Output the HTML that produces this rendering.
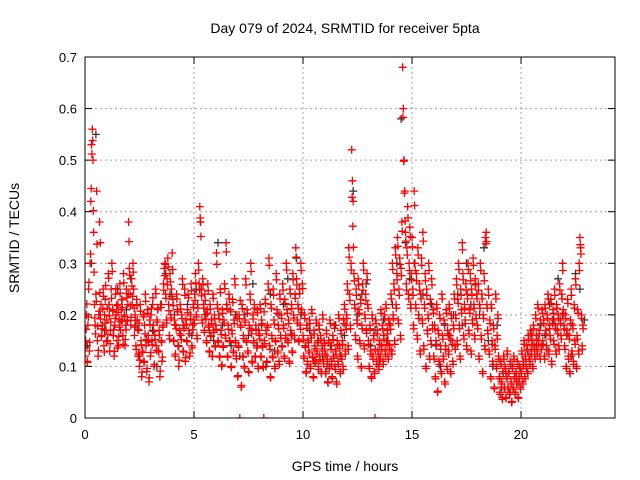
<!DOCTYPE html>
<html><head><meta charset="utf-8"><style>
html,body{margin:0;padding:0;background:#fff;}
svg{display:block;font-family:"Liberation Sans",sans-serif;}
</style></head><body>
<svg id="chart" width="640" height="480" viewBox="0 0 640 480" xmlns="http://www.w3.org/2000/svg">
<rect width="640" height="480" fill="#fff"/>
<text x="345" y="33" font-size="14" text-anchor="middle">Day 079 of 2024, SRMTID for receiver 5pta</text>
<text x="345" y="471" font-size="14" text-anchor="middle">GPS time / hours</text>
<text transform="translate(19,238) rotate(-90)" font-size="14" text-anchor="middle">SRMTID / TECUs</text>
<g id="grid"></g>
<g id="ticks"></g>
<defs><clipPath id="pc"><rect x="85" y="57" width="530" height="361"/></clipPath></defs>
<g id="grey" clip-path="url(#pc)"></g>
<g id="red" clip-path="url(#pc)"></g>
<rect x="85" y="57" width="530" height="361" fill="none" stroke="#000" stroke-width="1"/>
</svg>
<script>
const xTicks=[0,5,10,15,20];
const yTicks=[0,0.1,0.2,0.3,0.4,0.5,0.6,0.7];
const yTickLabels=["0","0.1","0.2","0.3","0.4","0.5","0.6","0.7"];
const redPerHour=30;
const redHundredths=[
12,15,20,11,18,25,13,30,42,53,56,50,36,22,18,24,44,15,12,20,38,34,22,16,18,25,14,20,23,17,
19,15,28,22,13,17,25,30,21,16,12,18,24,20,15,22,14,19,26,17,21,23,16,28,20,14,18,25,19,22,
38,29,24,18,27,22,30,25,16,20,14,23,19,12,17,10,22,15,8,13,20,11,18,24,14,9,21,16,7,19,
12,20,15,22,18,10,16,25,14,19,21,13,17,8,22,15,11,18,26,29,30,24,19,27,31,22,16,28,20,25,
32,23,15,19,12,18,24,21,14,10,17,22,16,20,27,13,18,25,11,19,15,21,24,17,12,20,26,14,18,22,
19,24,28,20,16,22,30,26,41,38,25,19,27,22,17,24,20,15,21,26,18,13,22,16,19,12,24,17,20,14,
18,32,22,15,20,12,25,17,10,21,14,19,26,16,34,22,12,18,24,15,21,10,17,23,13,19,27,15,12,20,
8,14,20,0,18,6,22,12,16,10,19,27,15,21,13,9,18,24,30,17,11,20,15,22,12,18,14,21,10,17,
16,22,12,19,14,10,0,15,23,17,11,18,26,31,14,8,22,16,12,25,19,10,15,28,21,13,18,11,24,16,
20,14,26,18,12,23,16,30,21,15,19,11,25,17,22,13,28,20,16,24,33,27,19,22,15,25,18,30,21,26,
16,12,20,14,9,18,11,15,13,19,10,16,21,12,8,17,14,11,19,13,15,10,18,12,16,9,14,20,11,15,
13,9,17,12,7,15,10,19,14,11,8,16,12,18,10,13,7,15,11,20,14,9,17,12,15,10,19,22,13,18,
20,26,14,33,24,18,30,52,46,42,28,22,16,25,19,12,27,21,15,23,10,18,26,30,14,20,24,17,28,22,
15,10,18,13,8,20,12,16,9,0,19,11,17,13,10,15,12,21,14,18,11,16,20,13,22,15,17,12,19,14,
18,24,13,30,20,26,15,33,22,28,35,19,25,31,16,29,38,68,60,50,44,36,26,33,41,24,30,37,22,28,
35,25,18,44,30,22,28,16,33,20,26,13,24,31,19,36,14,22,28,10,25,17,20,30,12,23,15,27,18,21,
12,18,8,15,22,5,17,11,20,14,9,24,16,12,19,7,14,21,10,17,13,22,16,9,20,15,11,18,24,14,
20,27,15,23,30,18,12,25,21,34,28,16,22,19,26,14,24,30,17,21,28,13,25,19,31,22,16,27,20,24,
18,26,12,22,30,16,24,9,20,28,14,35,36,22,17,25,13,19,8,22,15,11,18,6,14,24,10,16,20,12,
8,5,11,7,4,9,12,6,10,4,8,13,6,9,5,11,7,3,10,6,12,8,5,9,7,11,4,8,10,6,
9,13,7,11,15,8,12,10,14,9,16,12,11,17,13,15,10,18,14,12,20,16,13,22,15,17,12,19,14,21,
15,19,12,22,17,14,20,24,13,18,16,23,11,19,21,15,25,18,13,22,17,20,14,26,19,16,24,30,21,18,
14,20,10,17,23,12,16,9,19,25,13,18,11,22,15,27,10,16,21,13,30,35,33,20,14,18
];
const redBThousandths=[
137,172,221,108,196,263,147,318,445,512,538,402,283,194,163,226,337,178,131,207,243,192,158,173,211,236,128,184,257,149,
213,162,271,198,144,186,232,284,207,171,129,193,251,218,136,205,158,176,242,187,229,214,143,262,197,152,171,233,188,241,
342,277,218,195,256,236,283,213,176,189,133,218,172,124,184,112,207,142,89,127,196,108,163,226,152,96,203,147,78,181,
127,213,142,233,168,104,152,241,131,186,213,128,161,91,214,147,118,176,248,276,298,232,184,258,293,208,153,264,194,236,
288,218,149,181,124,173,231,206,139,112,163,211,152,193,259,128,174,238,117,182,148,204,233,163,126,192,247,136,171,214,
183,228,262,196,154,213,287,248,388,352,237,184,258,213,166,228,192,146,203,247,176,128,211,158,183,119,232,166,193,138,
172,298,213,147,192,118,243,162,103,203,137,184,251,155,322,212,118,172,231,148,206,98,163,224,127,183,258,146,115,193,
82,137,193,228,176,63,212,118,154,97,186,258,147,203,126,88,174,229,284,163,107,192,146,213,118,172,136,204,96,163,
153,212,118,183,137,98,206,144,222,163,108,176,248,296,133,78,213,154,117,238,182,96,148,268,203,126,173,104,231,155,
193,138,248,174,116,222,154,287,203,146,183,106,241,163,212,127,268,194,153,232,312,258,184,213,148,241,172,286,204,251,
153,116,193,137,87,174,104,146,126,183,96,155,203,117,78,163,134,106,184,124,146,94,172,113,153,86,134,192,105,144,
124,86,163,114,68,146,96,183,133,104,77,152,116,174,94,124,66,143,104,193,134,86,163,114,143,94,183,211,124,172,
193,248,133,312,228,173,287,428,372,331,266,213,152,238,183,114,258,203,144,222,97,173,248,287,134,193,228,164,268,213,
143,96,173,124,77,193,114,153,86,133,183,104,163,124,94,143,114,203,133,173,104,153,193,124,213,143,163,114,183,133,
172,231,124,288,193,248,143,316,213,268,333,183,238,298,153,276,362,583,498,436,382,343,248,316,388,231,286,352,213,268,
332,238,173,412,286,213,266,153,316,193,248,124,231,296,183,343,133,213,266,96,238,163,193,286,114,222,143,258,173,203,
114,173,76,143,213,52,163,104,193,133,86,231,153,114,183,66,133,203,94,163,124,213,153,86,193,143,104,173,231,133,
193,258,143,222,288,173,114,238,203,326,268,153,213,183,248,133,231,288,163,203,266,124,238,183,296,213,153,258,193,231,
173,248,114,213,286,153,231,86,193,266,133,338,342,213,163,238,124,183,76,213,143,104,173,57,133,231,96,153,193,114,
76,46,104,66,36,86,114,56,96,38,76,124,56,86,46,104,66,32,96,56,114,76,46,86,66,104,38,76,96,56,
86,124,66,104,143,76,114,96,133,86,153,114,104,163,124,143,96,173,133,114,193,153,124,213,143,163,114,183,133,203,
143,183,114,213,163,133,193,231,124,173,153,222,104,183,203,143,238,173,124,213,163,193,133,248,183,153,231,286,203,173,
133,193,96,163,222,114,153,86,183,238,124,173,104,213,143,258,96,153,203,124,286,336,318,193,133,173
];
const greyPerHour=5;
const greyHundredths=[
14,30,55,20,17, 22,16,25,19,21, 27,18,12,20,15, 17,10,22,28,24, 20,14,18,22,16,
25,38,20,17,15, 34,18,22,14,20, 12,20,16,26,14, 18,10,24,13,20, 22,27,16,31,20,
14,17,11,15,12, 10,14,18,12,16, 33,44,20,24,26, 14,17,11,19,15, 22,30,58,34,27,
30,20,24,17,22, 14,10,18,16,20, 24,18,30,22,26, 20,33,15,10,18, 6,9,5,8,7,
10,13,16,14,18, 16,22,19,27,20, 16,12,28,25,19
];
const X0=85,X1=615,Y0=418,Y1=57,XMAX=24.31,YMAX=0.7;
const xs=h=>X0+(X1-X0)*h/XMAX;
const ys=v=>Y0-(Y0-Y1)*v/YMAX;
const NS="http://www.w3.org/2000/svg";
function mk(tag,attrs,parent){const e=document.createElementNS(NS,tag);for(const k in attrs)e.setAttribute(k,attrs[k]);parent.appendChild(e);return e;}
const grid=document.getElementById('grid'),ticks=document.getElementById('ticks');
xTicks.forEach(t=>{const x=xs(t);
 if(t>0){const g=mk('line',{x1:x,x2:x,y1:Y1,y2:Y0,stroke:'#a0a0a0','stroke-dasharray':'2,3'},grid);
 
 }
 mk('line',{x1:x,x2:x,y1:Y0,y2:Y0-7,stroke:'#000'},ticks);
 mk('line',{x1:x,x2:x,y1:Y1,y2:Y1+7,stroke:'#000'},ticks);
 const l=mk('text',{x:x,y:Y0+21,'font-size':13,'text-anchor':'middle'},ticks);l.textContent=String(t);
 
 
});
yTicks.forEach((t,i)=>{const y=ys(t);
 if(t>0&&t<YMAX){const g=mk('line',{x1:X0,x2:X1,y1:y,y2:y,stroke:'#a0a0a0','stroke-dasharray':'2,3'},grid);
 
 }
 mk('line',{x1:X0,x2:X0+7,y1:y,y2:y,stroke:'#000'},ticks);
 mk('line',{x1:X1,x2:X1-7,y1:y,y2:y,stroke:'#000'},ticks);
 const l=mk('text',{x:X0-8,y:y+5,'font-size':13,'text-anchor':'end'},ticks);l.textContent=yTickLabels[i];
 
 
});
function plus(parent,vals,scale,perHour,color,off){
 let d='';
 vals.forEach((v,i)=>{const x=xs(i/perHour+off),y=ys(v/scale);
  d+=`M${(x-4).toFixed(1)} ${y.toFixed(1)}h8M${x.toFixed(1)} ${(y-4).toFixed(1)}v8`;});
 const p=mk('path',{d:d,stroke:color,'stroke-width':1.3,fill:'none'},parent);
 
 
}
plus(document.getElementById('grey'),greyHundredths,100,greyPerHour,'#333',0.1);
plus(document.getElementById('red'),redBThousandths,1000,redPerHour,'#ff0000',1/60);
plus(document.getElementById('red'),redHundredths,100,redPerHour,'#ff0000',0);
</script>
</body></html>
